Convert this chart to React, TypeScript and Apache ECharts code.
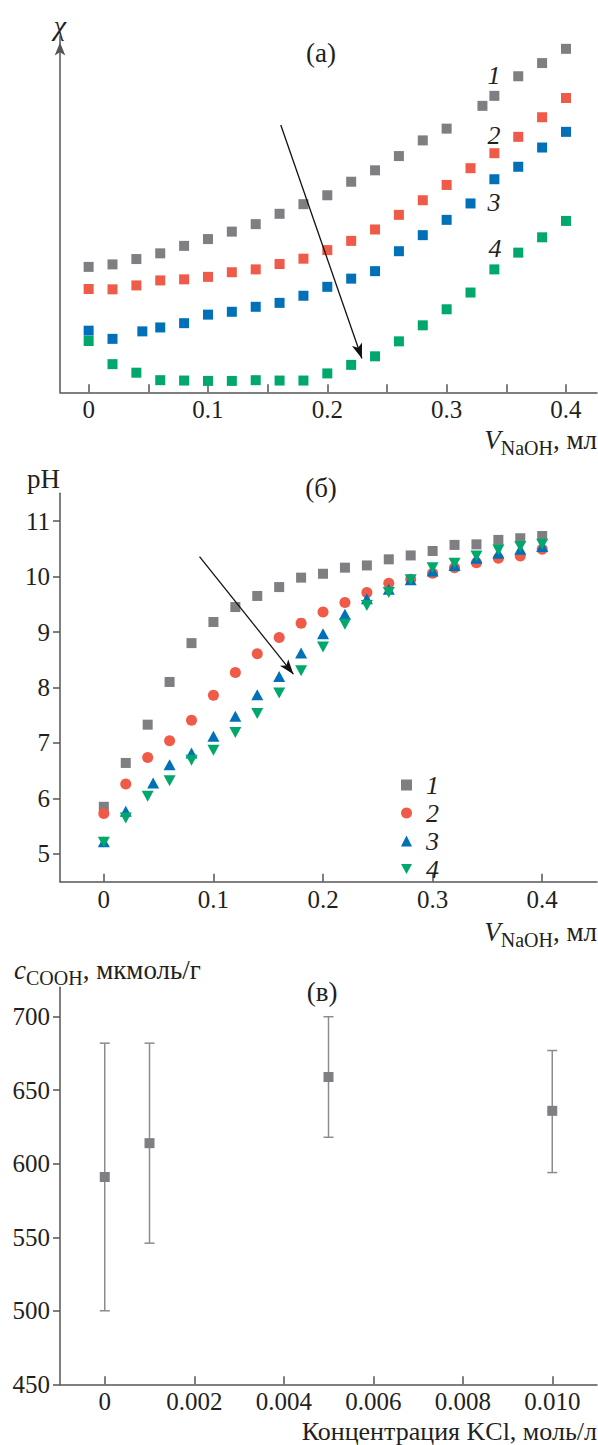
import React, { useEffect, useRef } from 'react';
import * as echarts from 'echarts';

// ---------- Panel (a): χ vs V_NaOH (arbitrary units) ----------
const aX1 = [0, 0.02, 0.04, 0.06, 0.08, 0.1, 0.12, 0.14, 0.16, 0.18, 0.2, 0.22, 0.24, 0.26, 0.28, 0.3, 0.33, 0.34, 0.36, 0.38, 0.4];
const aY1 = [35.2, 35.9, 37.4, 39.0, 41.1, 43.0, 45.1, 47.2, 50.1, 52.8, 55.3, 59.1, 62.3, 66.3, 70.7, 74.0, 80.4, 83.2, 88.7, 92.4, 96.4];
const aX2 = [0, 0.02, 0.04, 0.06, 0.08, 0.1, 0.12, 0.14, 0.16, 0.18, 0.2, 0.22, 0.24, 0.26, 0.28, 0.3, 0.32, 0.34, 0.36, 0.38, 0.4];
const aY2 = [29.0, 28.9, 30.0, 31.4, 31.7, 32.4, 33.7, 34.5, 36.0, 37.5, 39.9, 42.5, 45.7, 49.8, 53.9, 58.2, 62.9, 67.1, 71.7, 77.2, 82.6];
const aX3 = [0, 0.02, 0.045, 0.06, 0.08, 0.1, 0.12, 0.14, 0.16, 0.18, 0.2, 0.22, 0.24, 0.26, 0.28, 0.3, 0.32, 0.34, 0.36, 0.38, 0.4];
const aY3 = [17.3, 15.0, 17.1, 18.2, 19.4, 21.8, 22.6, 24.0, 25.1, 27.1, 29.6, 31.9, 34.0, 39.6, 44.1, 48.4, 53.0, 59.8, 63.3, 68.7, 73.1];
const aX4 = [0, 0.02, 0.04, 0.06, 0.08, 0.1, 0.12, 0.14, 0.16, 0.18, 0.2, 0.22, 0.24, 0.26, 0.28, 0.3, 0.32, 0.34, 0.36, 0.38, 0.4];
const aY4 = [14.4, 7.9, 5.5, 3.4, 3.3, 3.2, 3.2, 3.4, 3.3, 3.3, 5.3, 7.7, 10.1, 14.3, 18.8, 23.3, 28.0, 34.5, 39.2, 43.5, 48.1];
const aTicks = [0, 0.05, 0.1, 0.15, 0.2, 0.25, 0.3, 0.35, 0.4];
const aLabels = [0, 0.1, 0.2, 0.3, 0.4];

// ---------- Panel (б): pH vs V_NaOH ----------
const bX = [0, 0.02, 0.04, 0.06, 0.08, 0.1, 0.12, 0.14, 0.16, 0.18, 0.2, 0.22, 0.24, 0.26, 0.28, 0.3, 0.32, 0.34, 0.36, 0.38, 0.4];
const bX3 = [0, 0.02, 0.045, 0.06, 0.08, 0.1, 0.12, 0.14, 0.16, 0.18, 0.2, 0.22, 0.24, 0.26, 0.28, 0.3, 0.32, 0.34, 0.36, 0.38, 0.4];
const bY1 = [5.85, 6.64, 7.33, 8.10, 8.80, 9.18, 9.45, 9.65, 9.81, 9.98, 10.05, 10.16, 10.20, 10.31, 10.38, 10.46, 10.57, 10.58, 10.66, 10.69, 10.73];
const bY2 = [5.73, 6.26, 6.74, 7.04, 7.41, 7.86, 8.27, 8.61, 8.90, 9.16, 9.36, 9.53, 9.71, 9.88, 9.95, 10.06, 10.16, 10.25, 10.33, 10.37, 10.49];
const bY3 = [5.22, 5.77, 6.28, 6.61, 6.82, 7.12, 7.48, 7.87, 8.20, 8.62, 8.97, 9.32, 9.60, 9.77, 9.94, 10.10, 10.20, 10.33, 10.42, 10.49, 10.54];
const bY4 = [5.21, 5.65, 6.04, 6.32, 6.69, 6.87, 7.19, 7.53, 7.90, 8.30, 8.73, 9.14, 9.48, 9.71, 9.94, 10.16, 10.24, 10.37, 10.48, 10.54, 10.58];
const bXTicks = [0, 0.1, 0.2, 0.3, 0.4];
const bYTicks = [5, 6, 7, 8, 9, 10, 11];

// ---------- Panel (в): c_COOH vs KCl ----------
const cX = [0, 0.001, 0.005, 0.01];
const cY = [591, 614, 659, 636];
const cLow = [500, 546, 618, 594];
const cHigh = [682, 682, 700, 677];
const cXTicks = [0, 0.002, 0.004, 0.006, 0.008, 0.01];
const cYTicks = [450, 500, 550, 600, 650, 700];

const seriesNames = ['1', '2', '3', '4'];

const FONT = '"Liberation Serif", "Times New Roman", serif';
const TXT = '#231f20';
const AX = '#555';
const GRAY = '#7e7e83';
const RED = '#f05a48';
const BLUE = '#0070b8';
const GREEN = '#00a86b';
const DOWN_TRI = 'path://M0,0 L10,0 L5,9 Z';
const TICK_FS = 25;
const TITLE_FS = 27;

const zip = (xs: number[], ys: number[]) => xs.map((x, i) => [x, ys[i]]);

function xAxisCfg(gridIndex: number, min: number, max: number, ticks: number[], labels: number[], digits: number) {
  return {
    type: 'value', gridIndex, min, max,
    axisLine: { show: true, onZero: false, lineStyle: { color: AX, width: 1.5 } },
    axisTick: { show: true, inside: true, length: 8, customValues: ticks, lineStyle: { color: AX, width: 1.5 } },
    axisLabel: {
      customValues: labels, margin: 5, fontFamily: FONT, fontSize: TICK_FS, color: TXT,
      formatter: (v: number) => (v === 0 ? '0' : v.toFixed(digits)),
    },
    splitLine: { show: false },
  };
}

function yAxisCfg(gridIndex: number, min: number, max: number, ticks: number[]) {
  return {
    type: 'value', gridIndex, min, max,
    axisLine: { show: true, onZero: false, lineStyle: { color: AX, width: 1.5 } },
    axisTick: { show: true, inside: false, length: 7, customValues: ticks, lineStyle: { color: AX, width: 1.5 } },
    axisLabel: { customValues: ticks, margin: 10, fontFamily: FONT, fontSize: TICK_FS, color: TXT },
    splitLine: { show: false },
  };
}

const arrowLine = (from: number[], to: number[]) => ({
  silent: true,
  animation: false,
  symbol: ['none', 'arrow'],
  symbolSize: [0, 12],
  label: { show: false },
  lineStyle: { color: '#111', width: 1.3, type: 'solid' },
  emphasis: { disabled: true },
  data: [[{ coord: from, symbol: 'none' }, { coord: to, symbol: 'arrow', symbolSize: [8, 15] }]],
});

const subLabel = (x: number, y: number, main: string, sub: string, rest: string, align: string) => ({
  type: 'text', x, y,
  style: {
    text: `{m|${main}}{s|${sub}}{n|${rest}}`,
    align, verticalAlign: 'middle',
    fill: TXT,
    rich: {
      m: { fontFamily: FONT, fontSize: TITLE_FS, fontStyle: 'italic', fill: TXT },
      s: { fontFamily: FONT, fontSize: 20, fill: TXT, padding: [15, 0, 0, 0] },
      n: { fontFamily: FONT, fontSize: TITLE_FS, fill: TXT },
    },
  },
});

const plainText = (x: number, y: number, text: string, italic = false, align = 'center', size = TITLE_FS) => ({
  type: 'text', x, y,
  style: { text, fontFamily: FONT, fontSize: size, fontStyle: italic ? 'italic' : 'normal', fill: TXT, align, verticalAlign: 'middle' },
});

const option: any = {
  animation: false,
  backgroundColor: '#fff',
  grid: [
    { left: 60, top: 36, width: 537, height: 356.3 },
    { left: 60, top: 493.3, width: 537, height: 388.4 },
    { left: 60, top: 987.3, width: 537, height: 397 },
  ],
  xAxis: [
    xAxisCfg(0, -0.024, 0.426, aTicks, aLabels, 1),
    xAxisCfg(1, -0.04, 0.45, bXTicks, bXTicks, 1),
    xAxisCfg(2, -0.001, 0.011, cXTicks, cXTicks, 3),
  ],
  yAxis: [
    {
      type: 'value', gridIndex: 0, min: 0, max: 100,
      axisLine: { show: true, onZero: false, symbol: ['none', 'arrow'], symbolSize: [8, 13], symbolOffset: [0, -6.5], lineStyle: { color: AX, width: 1.5 } },
      axisTick: { show: false }, axisLabel: { show: false }, splitLine: { show: false },
    },
    yAxisCfg(1, 4.5, 11.5, bYTicks),
    yAxisCfg(2, 450, 720, cYTicks),
  ],
  legend: {
    orient: 'vertical', left: 396, top: 767, itemWidth: 11, itemHeight: 11, itemGap: 2,
    data: seriesNames,
    textStyle: { fontFamily: FONT, fontStyle: 'italic', fontSize: 26, color: TXT, lineHeight: 25, padding: [0, 0, 0, 9] },
    selectedMode: false,
  },
  series: [
    // panel (a)
    { name: 'a1', type: 'scatter', xAxisIndex: 0, yAxisIndex: 0, symbol: 'rect', symbolSize: 10, itemStyle: { color: GRAY, opacity: 1 }, data: zip(aX1, aY1),
      markLine: arrowLine([0.161, 75.0], [0.229, 9.5]) },
    { name: 'a2', type: 'scatter', xAxisIndex: 0, yAxisIndex: 0, symbol: 'rect', symbolSize: 10, itemStyle: { color: RED, opacity: 1 }, data: zip(aX2, aY2) },
    { name: 'a3', type: 'scatter', xAxisIndex: 0, yAxisIndex: 0, symbol: 'rect', symbolSize: 10, itemStyle: { color: BLUE, opacity: 1 }, data: zip(aX3, aY3) },
    { name: 'a4', type: 'scatter', xAxisIndex: 0, yAxisIndex: 0, symbol: 'rect', symbolSize: 10, itemStyle: { color: GREEN, opacity: 1 }, data: zip(aX4, aY4) },
    // panel (б)
    { name: seriesNames[0], type: 'scatter', xAxisIndex: 1, yAxisIndex: 1, symbol: 'rect', symbolSize: 10, itemStyle: { color: GRAY, opacity: 1 }, data: zip(bX, bY1),
      markLine: arrowLine([0.0873, 10.36], [0.173, 8.24]) },
    { name: seriesNames[1], type: 'scatter', xAxisIndex: 1, yAxisIndex: 1, symbol: 'circle', symbolSize: 11, itemStyle: { color: RED, opacity: 1 }, data: zip(bX, bY2) },
    { name: seriesNames[2], type: 'scatter', xAxisIndex: 1, yAxisIndex: 1, symbol: 'triangle', symbolSize: [12, 11], itemStyle: { color: BLUE, opacity: 1 }, data: zip(bX3, bY3) },
    { name: seriesNames[3], type: 'scatter', xAxisIndex: 1, yAxisIndex: 1, symbol: DOWN_TRI, symbolSize: [12, 11], itemStyle: { color: GREEN, opacity: 1 }, data: zip(bX, bY4) },
    // panel (в)
    {
      name: 'err', type: 'custom', xAxisIndex: 2, yAxisIndex: 2,
      encode: { x: 0, y: [1, 2] },
      data: cX.map((x, i) => [x, cLow[i], cHigh[i]]),
      renderItem: (params: any, api: any) => {
        const x = api.value(0);
        const lo = api.coord([x, api.value(1)]);
        const hi = api.coord([x, api.value(2)]);
        const st = { stroke: '#8c8c8c', lineWidth: 1.5 };
        return {
          type: 'group',
          children: [
            { type: 'line', shape: { x1: lo[0], y1: lo[1], x2: hi[0], y2: hi[1] }, style: st },
            { type: 'line', shape: { x1: lo[0] - 5, y1: lo[1], x2: lo[0] + 5, y2: lo[1] }, style: st },
            { type: 'line', shape: { x1: hi[0] - 5, y1: hi[1], x2: hi[0] + 5, y2: hi[1] }, style: st },
          ],
        };
      },
      z: 1,
    },
    { name: 'c', type: 'scatter', xAxisIndex: 2, yAxisIndex: 2, symbol: 'rect', symbolSize: 10, itemStyle: { color: GRAY, opacity: 1 }, data: zip(cX, cY), z: 3 },
  ],
  graphic: [
    plainText(60, 25, '\u03C7', true, 'center', 28),
    plainText(321, 53, '(a)'),
    plainText(494, 75, '1', true, 'center', 26),
    plainText(494, 135, '2', true, 'center', 26),
    plainText(494, 202, '3', true, 'center', 26),
    plainText(495, 248, '4', true, 'center', 26),
    subLabel(597, 440, 'V', 'NaOH', ', мл', 'right'),
    plainText(27, 479, 'pH', false, 'left'),
    plainText(321, 488, '(б)'),
    subLabel(597, 932, 'V', 'NaOH', ', мл', 'right'),
    subLabel(14, 970, 'c', 'COOH', ', мкмоль/г', 'left'),
    plainText(322, 992, '(в)'),
    plainText(597, 1431, 'Концентрация KCl, моль/л', false, 'right', 26),
  ],
};

export default function App() {
  const ref = useRef<HTMLDivElement>(null);
  useEffect(() => {
    const chart = echarts.init(ref.current!, null, { renderer: 'svg' });
    chart.setOption(option);
    return () => chart.dispose();
  }, []);
  return (
    <div
      ref={ref}
      style={{ position: 'absolute', left: 0, top: 0, width: 598, height: 1445, background: '#fff' }}
    />
  );
}
